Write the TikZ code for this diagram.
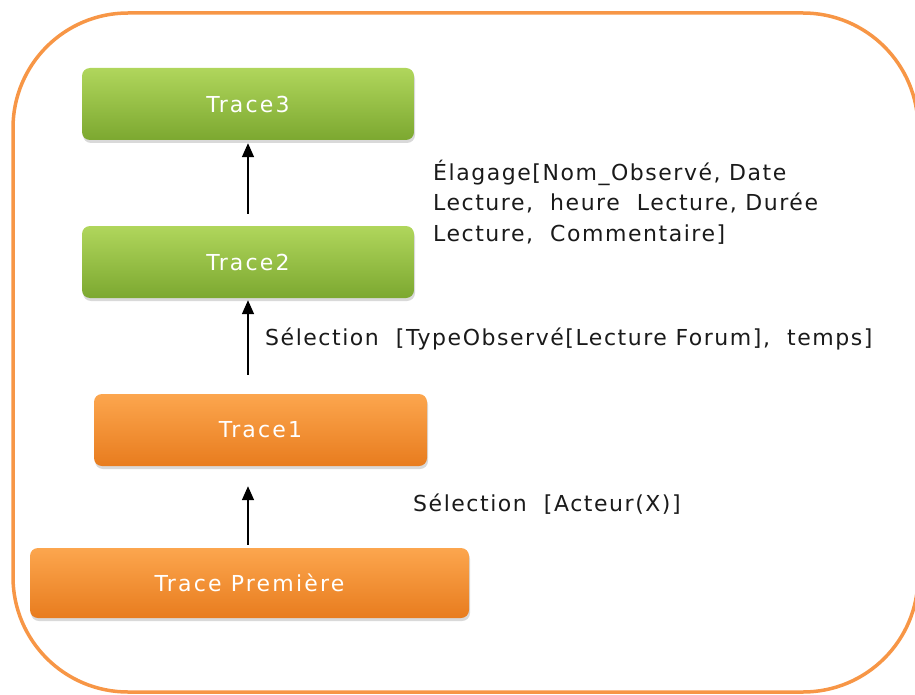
\documentclass[tikz,border=0pt]{standalone}
\usepackage{fontspec}
\setmainfont{DejaVu Sans}
\newfontfamily\labelfont[LetterSpace=7]{DejaVu Sans}
\newfontfamily\boxfont[LetterSpace=10]{DejaVu Sans}
\usetikzlibrary{arrows.meta,positioning,shadows}
\definecolor{framecol}{RGB}{247,150,70}
\definecolor{greentop}{RGB}{176,214,92}
\definecolor{greenbot}{RGB}{124,168,48}
\definecolor{orangetop}{RGB}{252,166,78}
\definecolor{orangebot}{RGB}{232,124,30}
\definecolor{labeltext}{RGB}{26,26,26}

\begin{document}
\begin{tikzpicture}[
    x=1pt, y=-1pt,
    font=\labelfont\fontsize{22}{30.5}\selectfont,
    trace/.style={rounded corners=8pt, minimum height=72pt, text=white, inner sep=0pt,
      font=\boxfont\fontsize{22}{26}\selectfont,
      drop shadow={opacity=0.3, shadow xshift=1pt, shadow yshift=-3pt}},
    greenbox/.style={trace, top color=greentop, bottom color=greenbot},
    orangebox/.style={trace, top color=orangetop, bottom color=orangebot},
    arrow/.style={-{Triangle[length=14pt, width=12pt]}, line width=1.6pt},
    op/.style={anchor=base west, align=left, inner sep=0pt, text=labeltext}
  ]
    \useasboundingbox (0,0) rectangle (915,695);
    \draw[framecol, line width=3.5pt, rounded corners=115pt] (13,13) rectangle (918,692);

    \node[greenbox, minimum width=332pt] (trace3) at (248,104) {Trace3};
    \node[greenbox, minimum width=332pt] (trace2) at (248,262) {Trace2};
    \node[orangebox, minimum width=333pt] (trace1) at (260.5,430) {Trace1};
    \node[orangebox, minimum width=439pt, minimum height=70pt] (premiere) at (249.5,583) {Trace Première};

    \draw[arrow, shorten <=12pt, shorten >=3pt] (trace2.north) -- (trace3.south);
    \draw[arrow, shorten <=19pt, shorten >=2pt] (trace1.north -| trace2.south) -- (trace2.south);
    \draw[arrow, shorten <=3pt, shorten >=20pt] (premiere.north -| trace2.south) -- (trace1.south -| trace2.south);

    % base of a multi-line node sits on its last line
    \node[op] (elagage) at (433,241) {Élagage[Nom\_Observé, Date\\Lecture,~ heure~ Lecture, Durée\\Lecture,~ Commentaire]};
    \node[op] (selobs) at (265,345) {Sélection~ [TypeObservé[Lecture Forum],~ temps]};
    \node[op] (selact) at (413,511) {Sélection~ [Acteur(X)]};
  \end{tikzpicture}
\end{document}
